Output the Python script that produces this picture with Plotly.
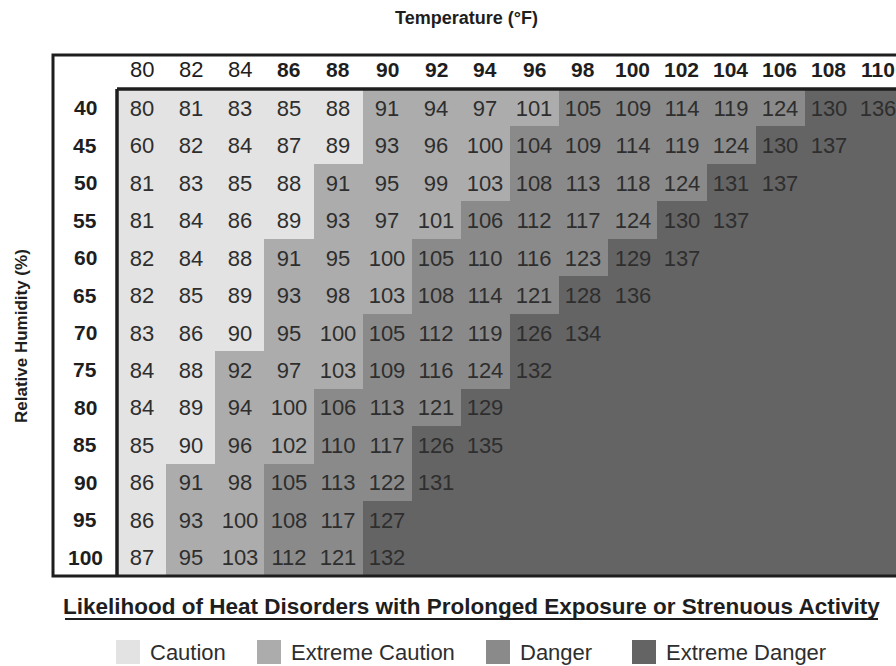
import plotly.graph_objects as go

# ---------------- data ----------------
temperatures = [80, 82, 84, 86, 88, 90, 92, 94, 96, 98, 100, 102, 104, 106, 108, 110]
bold_temps = [86, 88, 90, 92, 94, 96, 98, 100, 102, 104, 106, 108, 110]
humidity = [40, 45, 50, 55, 60, 65, 70, 75, 80, 85, 90, 95, 100]

heat_index = [
    [80, 81, 83, 85, 88, 91, 94, 97, 101, 105, 109, 114, 119, 124, 130, 136],
    [60, 82, 84, 87, 89, 93, 96, 100, 104, 109, 114, 119, 124, 130, 137],
    [81, 83, 85, 88, 91, 95, 99, 103, 108, 113, 118, 124, 131, 137],
    [81, 84, 86, 89, 93, 97, 101, 106, 112, 117, 124, 130, 137],
    [82, 84, 88, 91, 95, 100, 105, 110, 116, 123, 129, 137],
    [82, 85, 89, 93, 98, 103, 108, 114, 121, 128, 136],
    [83, 86, 90, 95, 100, 105, 112, 119, 126, 134],
    [84, 88, 92, 97, 103, 109, 116, 124, 132],
    [84, 89, 94, 100, 106, 113, 121, 129],
    [85, 90, 96, 102, 110, 117, 126, 135],
    [86, 91, 98, 105, 113, 122, 131],
    [86, 93, 100, 108, 117, 127],
    [87, 95, 103, 112, 121, 132],
]

categories = ["Caution", "Extreme Caution", "Danger", "Extreme Danger"]
upper_bounds = [90, 103, 124]          # upper limit of first three categories
cat_colors = ["#e3e3e3", "#acacac", "#8a8a8a", "#646464"]

title_top = "Temperature (°F)"
title_left = "Relative Humidity (%)"
legend_title = "Likelihood of Heat Disorders with Prolonged Exposure or Strenuous Activity"

# ---------------- build grid ----------------
ncol = len(temperatures)
nrow = len(humidity)


def category(v):
    if v is None:
        return len(categories) - 1
    for i, ub in enumerate(upper_bounds):
        if v <= ub:
            return i
    return len(categories) - 1


z = []
txt = []
for r in range(nrow):
    row = heat_index[r] + [None] * (ncol - len(heat_index[r]))
    z.append([category(v) for v in row])
    txt.append(["" if v is None else str(v) for v in row])

colorscale = []
n = len(categories)
for i, c in enumerate(cat_colors):
    colorscale.append([i / n, c])
    colorscale.append([(i + 1) / n, c])

W, H = 896, 666
FONT = "Liberation Sans, Arial, sans-serif"
TXT = "#2e2e2e"
DARK = "#1e1e1e"


def px(x):
    return x / W


def py(y):
    return 1 - y / H


plot_left, plot_top, plot_bottom = 117, 89, 576
cell_w = 49.1
x_right = -0.5 + (W - plot_left) / cell_w

fig = go.Figure()
fig.add_trace(go.Heatmap(
    z=z, x=list(range(ncol)), y=list(range(nrow)),
    text=txt, texttemplate="%{text}",
    textfont=dict(family=FONT, size=22, color=TXT),
    colorscale=colorscale, zmin=-0.5, zmax=n - 0.5,
    showscale=False, hoverinfo="skip", xgap=0, ygap=0,
))

annotations = []
# column header labels
for j, t in enumerate(temperatures):
    b = t in bold_temps
    annotations.append(dict(
        x=j, xref="x", y=py(70), yref="paper", yanchor="middle", xanchor="center",
        text=f"<b>{t}</b>" if b else str(t), showarrow=False,
        font=dict(family=FONT, size=21 if b else 22, color=DARK),
    ))
# row labels
for i, h in enumerate(humidity):
    annotations.append(dict(
        x=px(85), xref="paper", y=i, yref="y", xanchor="center", yanchor="middle",
        text=f"<b>{h}</b>", showarrow=False,
        font=dict(family=FONT, size=21, color=DARK),
    ))
# axis titles
annotations.append(dict(x=px(466), y=py(18), xref="paper", yref="paper",
                        xanchor="center", yanchor="middle",
                        text=f"<b>{title_top}</b>", showarrow=False,
                        font=dict(family=FONT, size=18, color=DARK)))
annotations.append(dict(x=px(22), y=py(336), xref="paper", yref="paper",
                        xanchor="center", yanchor="middle",
                        text=f"<b>{title_left}</b>", showarrow=False, textangle=-90,
                        font=dict(family=FONT, size=17, color=DARK)))
# legend title
annotations.append(dict(x=px(471), y=py(606), xref="paper", yref="paper",
                        xanchor="center", yanchor="middle",
                        text=f"<b>{legend_title}</b>", showarrow=False,
                        font=dict(family=FONT, size=22.5, color=DARK)))

shapes = []
# frames
shapes.append(dict(type="rect", xref="paper", yref="paper",
                   x0=px(53), x1=px(915), y0=py(55), y1=py(576),
                   line=dict(color=DARK, width=3), layer="above"))
shapes.append(dict(type="line", xref="paper", yref="paper",
                   x0=px(117), x1=px(117), y0=py(89), y1=py(576),
                   line=dict(color=DARK, width=3.5), layer="above"))
shapes.append(dict(type="line", xref="paper", yref="paper",
                   x0=px(117), x1=px(915), y0=py(89), y1=py(89),
                   line=dict(color=DARK, width=3.5), layer="above"))
# legend title underline
shapes.append(dict(type="line", xref="paper", yref="paper",
                   x0=px(65), x1=px(878), y0=py(619), y1=py(619),
                   line=dict(color=DARK, width=2)))

# legend items
legend_box_x = [116, 257, 486, 632]
for k, (name, col) in enumerate(zip(categories, cat_colors)):
    bx = legend_box_x[k]
    shapes.append(dict(type="rect", xref="paper", yref="paper",
                       x0=px(bx), x1=px(bx + 24), y0=py(640), y1=py(664),
                       fillcolor=col, line=dict(width=0)))
    annotations.append(dict(x=px(bx + 32), y=py(652), xref="paper", yref="paper",
                            xanchor="left", yanchor="middle", text=name, showarrow=False,
                            font=dict(family=FONT, size=22, color=TXT)))

fig.update_layout(
    width=W, height=H,
    margin=dict(l=0, r=0, t=0, b=0),
    paper_bgcolor="white", plot_bgcolor="white",
    xaxis=dict(domain=[px(plot_left), 1], range=[-0.5, x_right], fixedrange=True,
               showticklabels=False, showgrid=False, zeroline=False, ticks=""),
    yaxis=dict(domain=[py(plot_bottom), py(plot_top)], range=[nrow - 0.5, -0.5],
               fixedrange=True,
               showticklabels=False, showgrid=False, zeroline=False, ticks=""),
    annotations=annotations, shapes=shapes, showlegend=False,
)

fig.write_html(
    "out.html",
    config={"displayModeBar": False, "staticPlot": True},
    post_script="document.body.style.margin='0';document.body.style.overflow='hidden';",
)
